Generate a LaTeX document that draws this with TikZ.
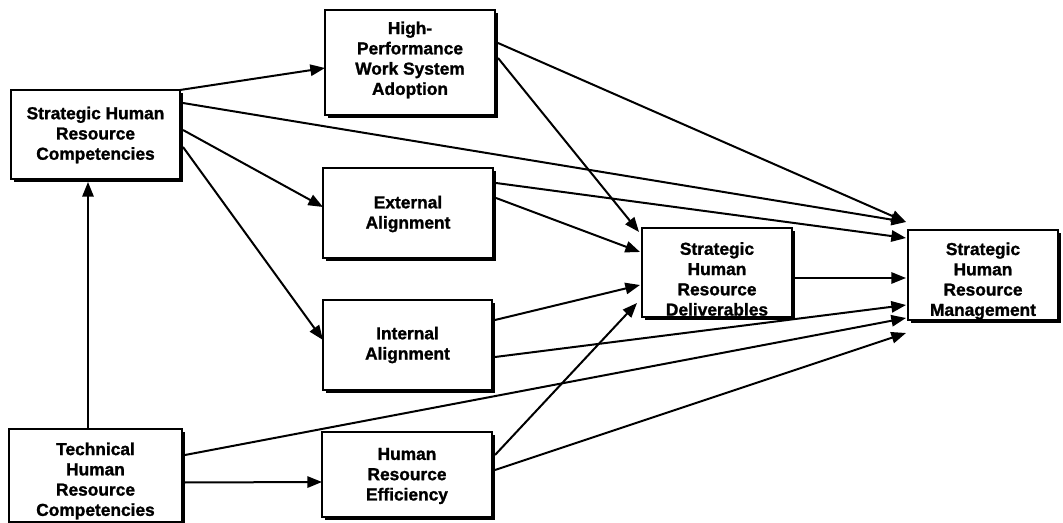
\documentclass[tikz,border=0pt]{standalone}
\usepackage{fontspec}
\setmainfont[BoldFeatures={FakeBold=1.3}]{Liberation Sans}
\usetikzlibrary{calc,arrows.meta,shadows}
\begin{document}
\begin{tikzpicture}[x=0.75pt,y=-0.75pt,
  box/.style={draw=black, line width=1.3pt, fill=white, inner sep=0pt, outer sep=0pt,
    drop shadow={shadow xshift=2.4pt, shadow yshift=-2.4pt, fill=black, opacity=1}},
  lbl/.style={align=center, font=\fontsize{13}{15.2}\selectfont\bfseries, inner sep=0pt},
  link/.style={line width=1.5pt, -{Triangle[length=11pt,width=8.5pt]}}]
\useasboundingbox (0,0) rectangle (1063,523);

% boxes
\node[box, minimum width=126.75pt, minimum height=66.75pt] (shrc) at (95.5,134.5) {};
\node[box, minimum width=127.5pt,  minimum height=78.75pt] (hpws) at (410,62.5) {};
\node[box, minimum width=127.5pt,  minimum height=67.5pt]  (ext)  at (408,213) {};
\node[box, minimum width=126.75pt, minimum height=67.5pt]  (int)  at (407.5,345) {};
\node[box, minimum width=127.5pt,  minimum height=63.75pt] (hre)  at (407,474.5) {};
\node[box, minimum width=129.75pt, minimum height=69.75pt] (tech) at (95.5,475.5) {};
\node[box, minimum width=112.5pt,  minimum height=66.75pt] (shrd) at (717,272.5) {};
\node[box, minimum width=112.5pt,  minimum height=67.5pt]  (shrm) at (983,275) {};

% box texts
\node[lbl] (tshrc) at (95.5,135) {Strategic Human\\Resource\\Competencies};
\node[lbl] (thpws) at (410,60) {High-\\Performance\\Work System\\Adoption};
\node[lbl] (text)  at (408,214) {External\\Alignment};
\node[lbl] (tint)  at (407.5,345) {Internal\\Alignment};
\node[lbl] (thre)  at (407,476) {Human\\Resource\\Efficiency};
\node[lbl] (ttech) at (95.5,481) {Technical\\Human\\Resource\\Competencies};
\node[lbl] (tshrd) at (717,279) {Strategic\\Human\\Resource\\Deliverables};
\node[lbl] (tshrm) at (983,281) {Strategic\\Human\\Resource\\Management};

% connectors
\draw[link] ($(tech.north)+(-7.5,0)$) -- ($(shrc.south)+(-7.5,3)$);
\draw[link] ($(tech.east)+(3,7)$) -- ($(hre.west)+(0,7.5)$);
\draw[link] ($(tech.east)+(3,-20.5)$) -- ($(shrm.south west)+(-2,-2)$);
\draw[link] (shrc.north east) -- ($(hpws.west)+(0,5.5)$);
\draw[link] ($(shrc.north east)+(3,13)$) -- ($(shrm.north west)+(-2,-8)$);
\draw[link] ($(shrc.east)+(3,-4.5)$) -- ($(ext.west)+(0,-6)$);
\draw[link] ($(shrc.east)+(3,12.5)$) -- ($(int.west)+(0,-5)$);
\draw[link] ($(hpws.east)+(3,-19.5)$) -- ($(shrm.north west)+(-2,-8)$);
\draw[link] ($(hpws.east)+(3,-4.5)$) -- ($(shrd.north west)+(-3,4)$);
\draw[link] ($(ext.east)+(3,-30)$) -- ($(shrm.north west)+(-2,8)$);
\draw[link] ($(ext.east)+(3,-15)$) -- ($(shrd.west)+(-2,-20.5)$);
\draw[link] ($(int.east)+(3,-25)$) -- ($(shrd.west)+(-2,12.5)$);
\draw[link] ($(int.east)+(3,12)$) -- ($(shrm.west)+(-2,30)$);
\draw[link] ($(hre.east)+(3,-19.5)$) -- ($(shrd.west)+(-5,30.5)$);
\draw[link] ($(hre.east)+(3,-4.5)$) -- ($(shrm.south west)+(-2,13)$);
\draw[link] ($(shrd.east)+(3,5.5)$) -- ($(shrm.west)+(-2,3)$);
\end{tikzpicture}
\end{document}
